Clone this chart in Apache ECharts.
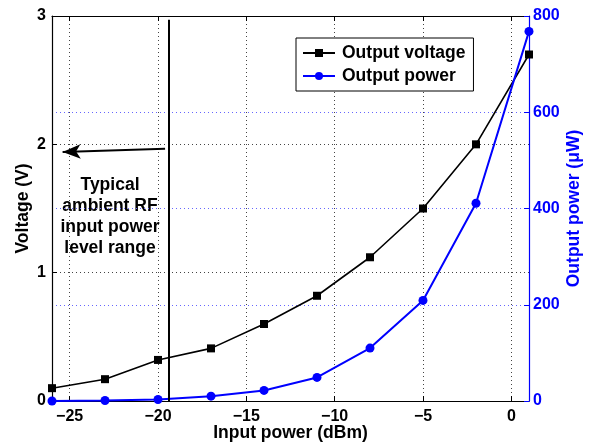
<!DOCTYPE html>
<html><head><meta charset="utf-8">
<script src="https://cdn.jsdelivr.net/npm/echarts@6/dist/echarts.min.js"></script>
<style>html,body{margin:0;padding:0;background:#fff}#c{width:590px;height:445px}</style>
</head><body><div id="c"></div>
<script>
const inputPower = [-26, -23, -20, -17, -14, -11, -8, -5, -2, 1];
const outputVoltage = [0.10, 0.17, 0.32, 0.41, 0.60, 0.82, 1.12, 1.50, 2.00, 2.70];
const outputPowerUW = [0, 1, 3, 10, 22, 49, 110, 209, 411, 768];
const xTicks = [-25, -20, -15, -10, -5, 0];
const rangeLineX = -19.4;
const annotationText = 'Typical\nambient RF\ninput power\nlevel range';

const FF = "'Liberation Sans', Arial, Helvetica, sans-serif";
const chart = echarts.init(document.getElementById('c'));
const lbl = (c, s) => ({color: c, fontFamily: FF, fontWeight: 'bold', fontSize: s || 16});
chart.setOption({
  animation: false,
  backgroundColor: '#fff',
  grid: {left: 52, right: 61, top: 16, bottom: 44, containLabel: false, outerBoundsMode: 'none'},
  legend: {
    left: 296, top: 38, orient: 'vertical', itemGap: 5,
    padding: [6, 8, 6, 6],
    borderColor: '#000', borderWidth: 1, backgroundColor: '#fff',
    itemWidth: 32, itemHeight: 10,
    textStyle: {fontFamily: FF, fontWeight: 'bold', fontSize: 17.5, color: '#000', padding: [0, 0, 0, 2]},
    data: ['Output voltage', 'Output power']
  },
  xAxis: [{
    type: 'value', min: -26, max: 1, position: 'bottom',
    name: 'Input power (dBm)', nameLocation: 'middle', nameGap: 23, nameMoveOverlap: false,
    nameTextStyle: lbl('#000', 17.5),
    axisLine: {onZero: false, lineStyle: {color: '#000', width: 1.2}},
    axisTick: {inside: true, length: 5, customValues: xTicks, lineStyle: {color: '#000'}},
    axisLabel: Object.assign(lbl('#000'), {margin: 8, customValues: xTicks, formatter: v => String(v).replace('-', '\u2212')}),
    splitLine: {show: true, lineStyle: {color: '#444', type: [1, 3], width: 1}}
  }, {
    type: 'value', min: -26, max: 1, position: 'top',
    axisLine: {show: true, onZero: false, lineStyle: {color: '#000', width: 1.2}},
    axisTick: {inside: true, length: 5, customValues: xTicks, lineStyle: {color: '#000'}},
    axisLabel: {show: false}, splitLine: {show: false}
  }],
  yAxis: [{
    type: 'value', min: 0, max: 3, interval: 1, position: 'left',
    name: 'Voltage (V)', nameLocation: 'middle', nameGap: 20, nameRotate: 90, nameMoveOverlap: false,
    nameTextStyle: lbl('#000', 17.5),
    axisLine: {show: true, onZero: false, lineStyle: {color: '#000', width: 1.2}},
    axisTick: {show: true, inside: true, length: 5, lineStyle: {color: '#000'}},
    axisLabel: Object.assign(lbl('#000'), {margin: 6}),
    splitLine: {show: true, lineStyle: {color: '#444', type: [1, 3], width: 1}}
  }, {
    type: 'value', min: 0, max: 800, interval: 200, position: 'right',
    name: 'Output power (\u03BCW)', nameLocation: 'middle', nameGap: 36, nameRotate: 90, nameMoveOverlap: false,
    nameTextStyle: lbl('#0000ff', 17.5),
    axisLine: {show: true, onZero: false, lineStyle: {color: '#0000ff', width: 1.2}},
    axisTick: {show: true, inside: true, length: 5, lineStyle: {color: '#0000ff'}},
    axisLabel: Object.assign(lbl('#0000ff'), {margin: 4}),
    splitLine: {show: true, lineStyle: {color: '#6666ff', type: [1, 3], width: 1}}
  }],
  series: [{
    name: 'Output voltage', type: 'line', xAxisIndex: 0, yAxisIndex: 0,
    data: inputPower.map((x, i) => [x, outputVoltage[i]]),
    symbol: 'rect', symbolSize: 8,
    lineStyle: {color: '#000', width: 1.6}, itemStyle: {color: '#000'},
    z: 3,
    markLine: {
      silent: true, animation: false, label: {show: false},
      data: [
        [{coord: [rangeLineX, 0], symbol: 'none'}, {coord: [rangeLineX, 2.97], symbol: 'none', lineStyle: {color: '#000', width: 2, type: 'solid'}}],
        [{coord: [-25.4, 1.94], symbol: 'arrow', symbolSize: [11, 18]}, {coord: [-19.6, 1.965], symbol: 'none', lineStyle: {color: '#000', width: 2, type: 'solid'}}]
      ],
      lineStyle: {color: '#000', width: 2, type: 'solid'}
    }
  }, {
    name: 'Output power', type: 'line', xAxisIndex: 0, yAxisIndex: 1,
    data: inputPower.map((x, i) => [x, outputPowerUW[i]]),
    symbol: 'circle', symbolSize: 9,
    lineStyle: {color: '#0000ff', width: 2}, itemStyle: {color: '#0000ff'},
    z: 4
  }],
  graphic: [{
    type: 'text', x: 110, y: 175,
    style: {text: annotationText, fill: '#000', font: 'bold 17.5px ' + FF, align: 'center', verticalAlign: 'top', lineHeight: 21}
  }]
});
</script></body></html>
